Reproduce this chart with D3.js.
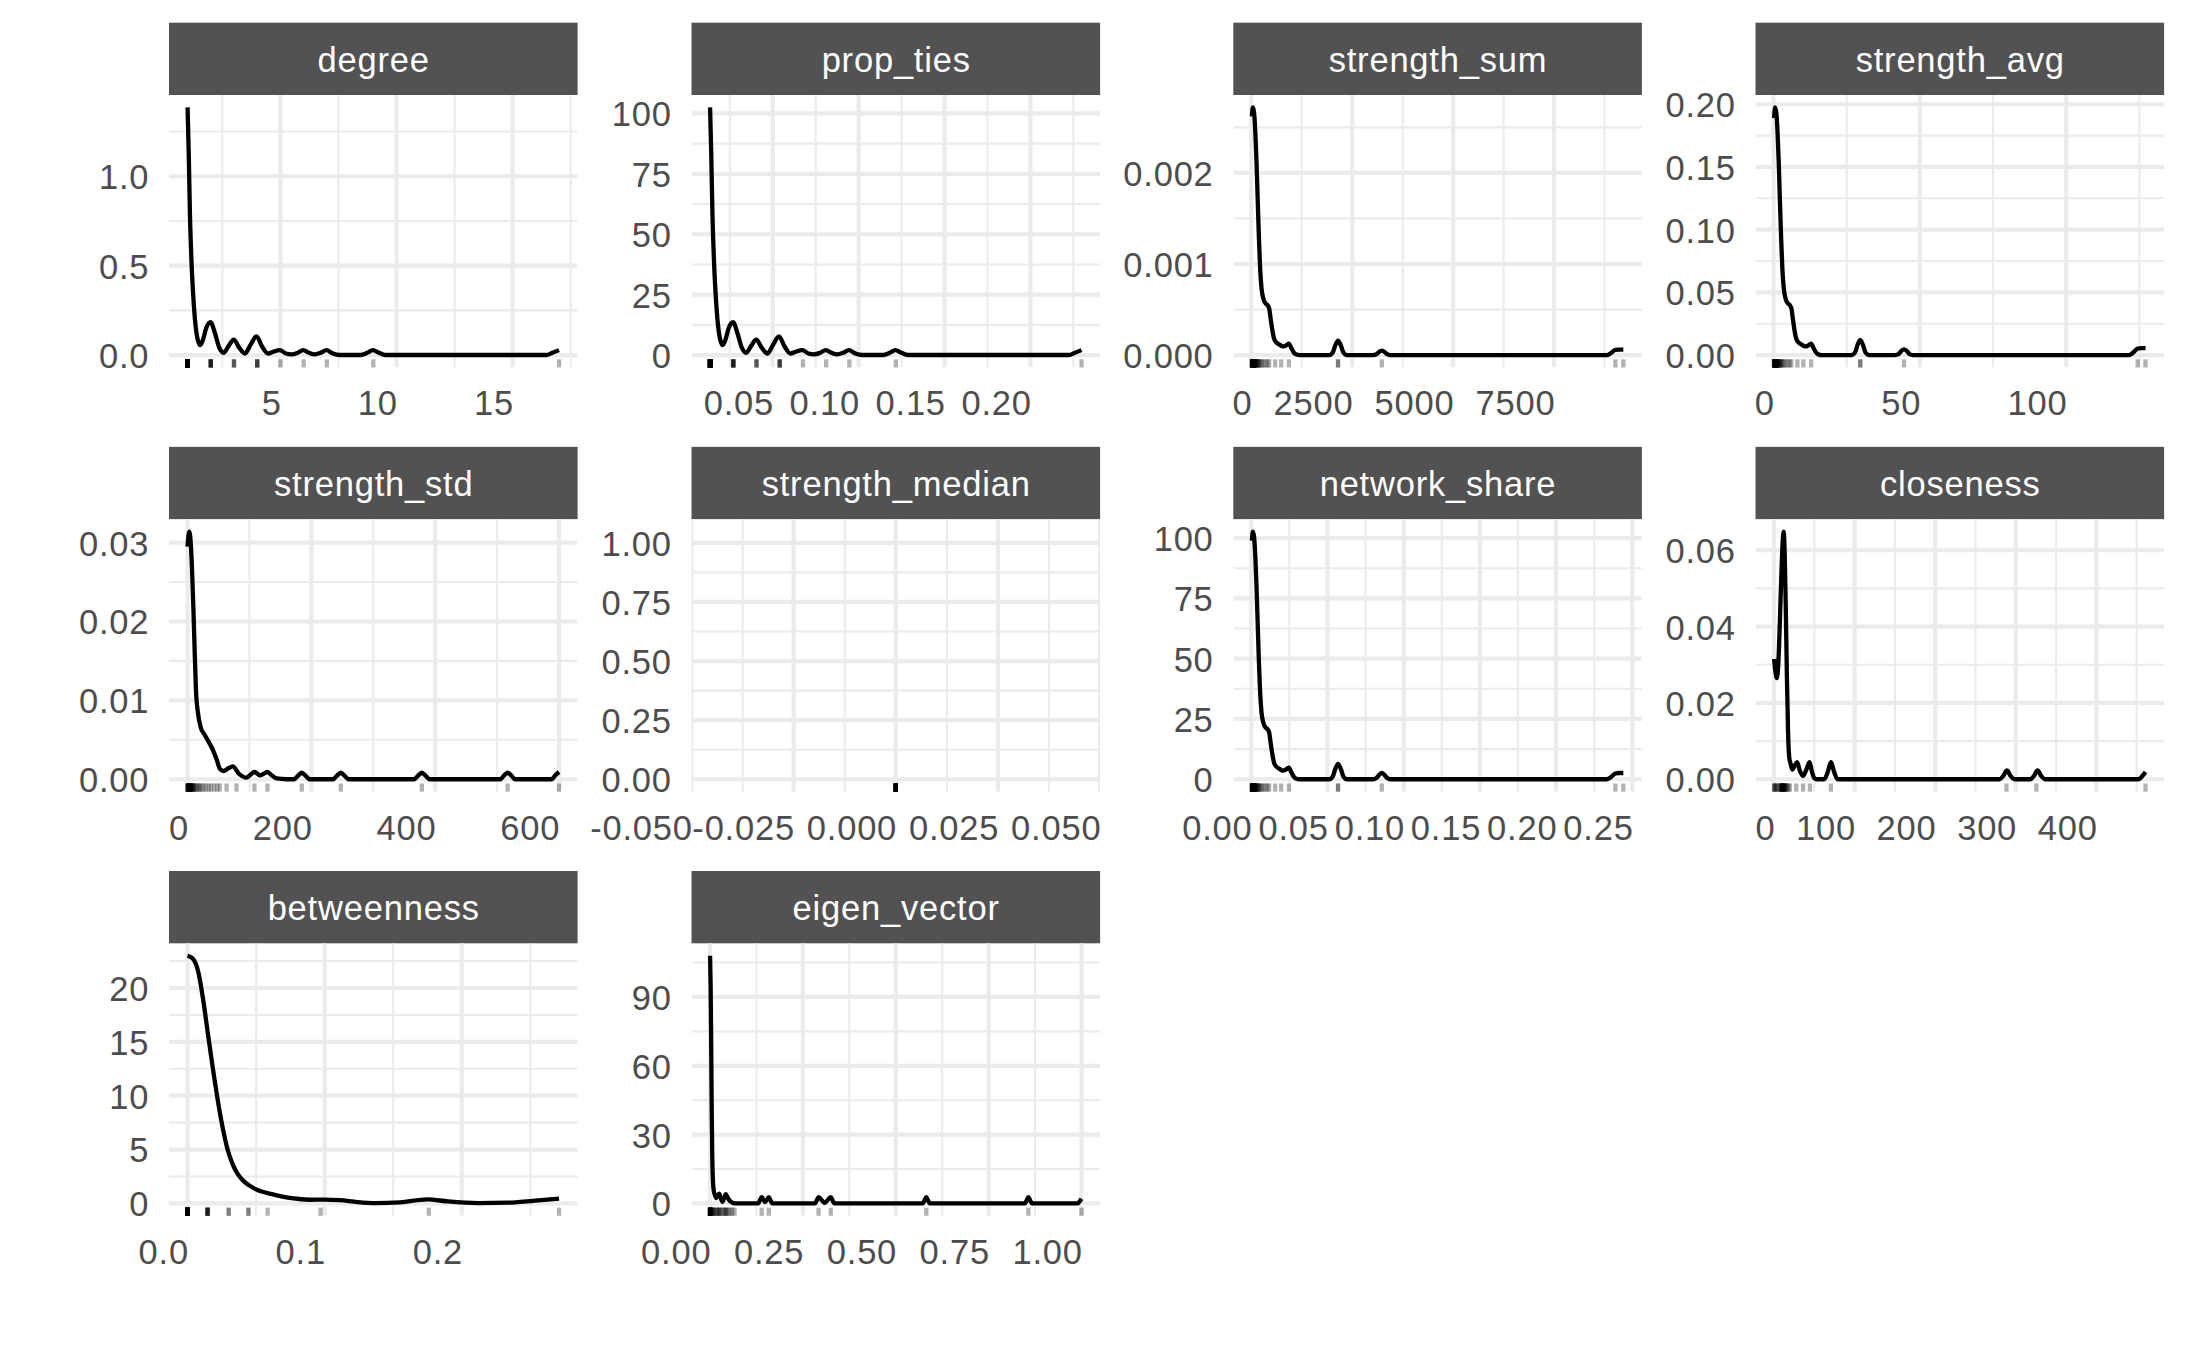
<!DOCTYPE html>
<html>
<head>
<meta charset="utf-8">
<script src="https://cdn.jsdelivr.net/npm/d3@7"></script>
<style>
  html, body { margin: 0; padding: 0; background: #ffffff; }
  svg { display: block; }
</style>
</head>
<body>
<svg id="chart" width="2187" height="1351"></svg>
<script>
// ---------------- DATA ----------------
// Rug observations: [value, count]; density curve: [x, density]
const panelNames = ["degree", "prop_ties", "strength_sum", "strength_avg",
  "strength_std", "strength_median", "network_share", "closeness",
  "betweenness", "eigen_vector"];

const degreeRug = [[1,52],[2,6],[3,3],[4,4],[5,1],[6,1],[7,1],[9,1],[17,1]];
const degreeCurve = [[1,1.385],[1.05,1.13],[1.1,0.80],[1.17,0.52],[1.25,0.32],[1.34,0.17],[1.44,0.085],[1.55,0.056],[1.66,0.085],[1.8,0.15],[1.99,0.184],[2.18,0.122],[2.37,0.04],[2.55,0.013],[2.76,0.05],[2.99,0.087],[3.23,0.04],[3.47,0.009],[3.71,0.057],[3.97,0.105],[4.21,0.048],[4.47,0.009],[4.69,0.019],[4.97,0.028],[5.24,0.009],[5.47,0.004],[5.74,0.013],[5.98,0.028],[6.23,0.013],[6.47,0.004],[6.73,0.013],[6.98,0.028],[7.26,0.009],[7.55,0.0005],[8.45,0.0005],[8.74,0.013],[8.98,0.028],[9.24,0.013],[9.52,0.0005],[16.45,0.0005],[16.72,0.013],[17,0.028]];
const degreeXLabels = ["5","10","15"];
const degreeYLabels = ["0.0","0.5","1.0"];

const propTiesRug = [[0.01351,52],[0.02703,6],[0.04054,3],[0.05405,4],[0.06757,1],[0.08108,1],[0.09459,1],[0.12162,1],[0.22973,1]];
const propTiesCurve = [[0.01351,102.5],[0.01419,83.6],[0.01486,59.2],[0.01581,38.5],[0.01689,23.7],[0.01811,12.6],[0.01946,6.3],[0.02095,4.14],[0.02243,6.3],[0.02432,11.1],[0.02689,13.6],[0.02946,9.03],[0.03203,2.96],[0.03446,0.96],[0.0373,3.7],[0.0404,6.44],[0.04365,2.96],[0.04689,0.67],[0.05014,4.22],[0.05365,7.77],[0.05689,3.55],[0.0604,0.67],[0.06338,1.41],[0.06716,2.07],[0.07081,0.67],[0.07392,0.3],[0.07757,0.96],[0.08081,2.07],[0.08419,0.96],[0.08743,0.3],[0.09095,0.96],[0.09432,2.07],[0.09811,0.67],[0.10203,0.04],[0.11419,0.04],[0.11811,0.96],[0.12135,2.07],[0.12486,0.96],[0.12865,0.04],[0.2223,0.04],[0.22595,0.96],[0.22973,2.07]];
const propTiesXLabels = ["0.05","0.10","0.15","0.20"];
const propTiesYLabels = ["0","25","50","75","100"];

const strengthSumRug = [[15,3],[20,2],[25,2],[30,3],[35,3],[40,3],[45,2],[50,2],[55,2],[60,2],[66,2],[72,2],[80,2],[88,1],[95,2],[105,1],[115,1],[125,1],[135,1],[150,1],[165,1],[180,1],[200,1],[225,1],[260,1],[300,1],[350,1],[400,1],[443,1],[592,1],[740,1],[933,1],[2149,2],[3233,1],[9020,1],[9215,1]];
const strengthSumCurve = [[15,0.00262],[40,0.00272],[70,0.00266],[100,0.00245],[130,0.00212],[160,0.0017],[190,0.00128],[220,0.00095],[255,0.00073],[300,0.00062],[350,0.00057],[400,0.00055],[445,0.00051],[480,0.0004],[520,0.00028],[565,0.00018],[620,0.00014],[700,0.000115],[780,0.000095],[840,0.0001],[930,0.000125],[990,0.00008],[1050,0.00003],[1120,0.000006],[1200,0],[1930,0],[2020,0.00003],[2075,0.0001],[2149,0.00016],[2225,0.0001],[2280,0.00003],[2370,0],[3010,0],[3100,0.00001],[3150,0.00003],[3233,0.00005],[3316,0.00003],[3366,0.00001],[3450,0],[8800,0],[8900,0.00002],[9020,0.000057],[9110,0.00006],[9215,0.00006]];
const strengthSumXLabels = ["0","2500","5000","7500"];
const strengthSumYLabels = ["0.000","0.001","0.002"];

const strengthAvgRug = [[0.2,3],[0.28,2],[0.34,2],[0.41,3],[0.48,3],[0.55,3],[0.62,2],[0.69,2],[0.76,2],[0.83,2],[0.91,2],[0.99,2],[1.1,2],[1.21,1],[1.31,2],[1.45,1],[1.59,1],[1.72,1],[1.86,1],[2.07,1],[2.28,1],[2.48,1],[2.76,1],[3.1,1],[3.59,1],[4.14,1],[4.83,1],[5.52,1],[6.11,1],[8.17,1],[10.2,1],[12.87,1],[29.64,2],[44.6,1],[124.4,1],[127.1,1]];
const strengthAvgCurve = [[0.2,0.189],[0.55,0.1975],[0.97,0.193],[1.38,0.178],[1.79,0.154],[2.2,0.123],[2.62,0.093],[3.03,0.069],[3.52,0.053],[4.14,0.045],[4.83,0.0415],[5.52,0.040],[6.14,0.037],[6.62,0.029],[7.17,0.020],[7.79,0.013],[8.55,0.0102],[9.66,0.0084],[10.76,0.0069],[11.6,0.0073],[12.83,0.0091],[13.66,0.0058],[14.48,0.0022],[15.45,0.0004],[16.55,0],[26.6,0],[27.9,0.0022],[28.6,0.0073],[29.64,0.0122],[30.7,0.0073],[31.4,0.0022],[32.7,0],[41.5,0],[42.8,0.0009],[43.4,0.0027],[44.6,0.0045],[45.8,0.0027],[46.4,0.0009],[47.6,0],[121.4,0],[122.8,0.0018],[124.4,0.0052],[125.7,0.0055],[127.1,0.0055]];
const strengthAvgXLabels = ["0","50","100"];
const strengthAvgYLabels = ["0.00","0.05","0.10","0.15","0.20"];

const strengthStdRug = [[0,4],[1,3],[2,3],[3,3],[4,2],[5,2],[6,2],[7,2],[8,1],[9,1],[10,2],[12,1],[14,1],[16,1],[18,1],[20,1],[23,1],[26,1],[30,1],[34,1],[38,1],[43,1],[48,1],[52,1],[63,1],[79,1],[108,1],[129,1],[184.5,1],[247.4,1],[378.4,1],[517,1],[600,1]];
const strengthStdCurve = [[0,0.0295],[2.5,0.0314],[4.8,0.0303],[7,0.027],[9.2,0.0221],[11.3,0.0167],[13.6,0.0112],[17,0.0083],[21.5,0.0065],[27,0.0057],[33,0.0049],[41,0.0037],[47,0.0025],[52,0.00135],[58,0.00105],[66,0.0014],[73,0.00164],[83,0.0007],[95,0.0002],[102,0.0006],[108,0.00092],[117,0.0005],[123,0.0007],[129,0.00092],[136,0.0005],[144,0.0001],[160,0],[172,0],[178.5,0.00046],[184.5,0.00084],[190.5,0.00046],[197,0],[235,0],[241.4,0.00046],[247.4,0.00084],[253.4,0.00046],[260,0],[366,0],[372.4,0.00046],[378.4,0.00084],[384.4,0.00046],[391,0],[505,0],[511,0.00046],[517,0.00084],[523,0.00046],[529,0],[588,0],[594,0.0005],[600,0.00092]];
const strengthStdXLabels = ["0","200","400","600"];
const strengthStdYLabels = ["0.00","0.01","0.02","0.03"];

const strengthMedianRug = [[0,20]];
const strengthMedianCurve = [];
const strengthMedianXLimits = [-0.05, 0.05];
const strengthMedianYLimits = [-0.0524, 1.1];
const strengthMedianXLabels = ["-0.050","-0.025","0.000","0.025","0.050"];
const strengthMedianYLabels = ["0.00","0.25","0.50","0.75","1.00"];

const networkShareRug = [[0.0004,3],[0.00053,2],[0.00066,2],[0.00079,3],[0.00093,3],[0.00106,3],[0.00119,2],[0.00132,2],[0.00146,2],[0.00159,2],[0.00175,2],[0.00191,2],[0.00212,2],[0.00233,1],[0.00252,2],[0.00278,1],[0.00305,1],[0.00331,1],[0.00358,1],[0.00397,1],[0.00437,1],[0.00477,1],[0.0053,1],[0.00596,1],[0.00689,1],[0.00795,1],[0.00927,1],[0.0106,1],[0.01174,1],[0.01568,1],[0.0196,1],[0.02472,1],[0.05693,2],[0.08564,1],[0.2389,1],[0.2441,1]];
const networkShareCurve = [[0.0004,98.9],[0.00106,102.7],[0.00185,100.4],[0.00265,92.5],[0.00344,80],[0.00424,64.2],[0.00503,48.3],[0.00583,35.9],[0.00675,27.6],[0.00795,23.4],[0.00927,21.5],[0.0106,20.8],[0.01179,19.3],[0.01272,15.1],[0.01377,10.6],[0.01497,6.8],[0.01642,5.3],[0.01854,4.3],[0.02066,3.6],[0.02225,3.8],[0.02464,4.8],[0.02623,3.0],[0.02781,1.1],[0.02967,0.2],[0.03179,0],[0.05113,0],[0.05351,1.2],[0.05497,4.0],[0.05693,6.4],[0.05894,4.0],[0.0604,1.2],[0.06278,0],[0.07974,0],[0.08212,0.5],[0.08344,1.5],[0.08564,2.6],[0.08784,1.5],[0.08917,0.5],[0.09139,0],[0.2331,0],[0.2358,0.8],[0.2389,2.4],[0.2413,2.6],[0.2441,2.6]];
const networkShareXLabels = ["0.00","0.05","0.10","0.15","0.20","0.25"];
const networkShareYLabels = ["0","25","50","75","100"];

const closenessRug = [[0,2],[1,1],[2,1],[3,1],[5,1],[6.5,1],[8,2],[9,2],[10,3],[11,3],[12,3],[13,2],[14,2],[15,1],[16.5,1],[18,1],[19.5,1],[27.5,1],[36,1],[44.5,1],[70.6,1],[288.4,1],[325.6,1],[461,1]];
const closenessCurve = [[0,0.0315],[1.7,0.0282],[3.4,0.0265],[5.2,0.03],[7,0.04],[8.8,0.052],[10.4,0.061],[11.8,0.0649],[13.2,0.059],[14.6,0.044],[16,0.026],[17.4,0.012],[18.8,0.0058],[20.3,0.0042],[22.8,0.0025],[25.5,0.0035],[28.5,0.0045],[32,0.0022],[36,0.0009],[40,0.0025],[44,0.0045],[47,0.002],[50,0.0003],[53,0],[62,0],[66.5,0.0018],[70.6,0.0045],[74.7,0.0018],[79,0],[280,0],[284.5,0.0009],[289,0.0023],[293.5,0.0009],[298,0],[318,0],[322.5,0.0009],[327,0.0023],[331.5,0.0009],[336,0],[452,0],[456.5,0.0007],[461,0.0019]];
const closenessXLabels = ["0","100","200","300","400"];
const closenessYLabels = ["0.00","0.02","0.04","0.06"];

const betweennessRug = [[0,30],[0.0146,6],[0.030,2],[0.0444,2],[0.0584,1],[0.097,1],[0.176,1],[0.271,1]];
const betweennessCurve = [[0,23.0],[0.004,22.7],[0.008,21.4],[0.0115,18.8],[0.015,15.6],[0.0185,12.5],[0.022,9.6],[0.0255,7.1],[0.029,5.1],[0.033,3.6],[0.037,2.65],[0.042,1.95],[0.05,1.3],[0.063,0.82],[0.076,0.48],[0.089,0.34],[0.1,0.36],[0.111,0.3],[0.124,0.12],[0.137,0.03],[0.155,0.1],[0.175,0.38],[0.19,0.18],[0.212,0.03],[0.234,0.07],[0.256,0.28],[0.271,0.45]];
const betweennessXLabels = ["0.0","0.1","0.2"];
const betweennessYLabels = ["0","5","10","15","20"];

const eigenVectorRug = [[0,15],[0.003,2],[0.006,2],[0.009,2],[0.012,1],[0.015,1],[0.018,1],[0.021,1],[0.024,2],[0.027,1],[0.031,1],[0.035,1],[0.039,1],[0.042,2],[0.046,1],[0.05,1],[0.055,1],[0.06,1],[0.066,1],[0.139,1],[0.158,1],[0.292,1],[0.325,1],[0.582,1],[0.857,1],[1.0,1]];
const eigenVectorCurve = [[0,108],[0.0015,95],[0.003,70],[0.0045,40],[0.006,20],[0.008,9],[0.0105,5],[0.0135,3.5],[0.017,2.3],[0.0205,3.5],[0.0245,4.3],[0.029,2.2],[0.0335,0.7],[0.038,2.5],[0.0425,4.0],[0.047,2.6],[0.052,1.3],[0.057,0.6],[0.062,0.2],[0.068,0],[0.129,0],[0.134,1.2],[0.139,2.7],[0.1485,0.6],[0.158,2.7],[0.163,1.2],[0.168,0],[0.282,0],[0.287,1.2],[0.292,2.7],[0.3085,0.3],[0.325,2.7],[0.33,1.2],[0.335,0],[0.572,0],[0.577,1.2],[0.582,2.7],[0.587,1.2],[0.592,0],[0.847,0],[0.852,1.2],[0.857,2.7],[0.862,1.2],[0.867,0],[0.99,0],[0.995,0.9],[1.0,2.0]];
const eigenVectorXLabels = ["0.00","0.25","0.50","0.75","1.00"];
const eigenVectorYLabels = ["0","30","60","90"];

// ---------------- PANEL TABLE (built from the arrays above) ----------------
const panels = [
  {rug: degreeRug, curve: degreeCurve, xl: degreeXLabels, yl: degreeYLabels},
  {rug: propTiesRug, curve: propTiesCurve, xl: propTiesXLabels, yl: propTiesYLabels},
  {rug: strengthSumRug, curve: strengthSumCurve, xl: strengthSumXLabels, yl: strengthSumYLabels},
  {rug: strengthAvgRug, curve: strengthAvgCurve, xl: strengthAvgXLabels, yl: strengthAvgYLabels},
  {rug: strengthStdRug, curve: strengthStdCurve, xl: strengthStdXLabels, yl: strengthStdYLabels},
  {rug: strengthMedianRug, curve: strengthMedianCurve, xl: strengthMedianXLabels, yl: strengthMedianYLabels,
   xLim: strengthMedianXLimits, yLim: strengthMedianYLimits},
  {rug: networkShareRug, curve: networkShareCurve, xl: networkShareXLabels, yl: networkShareYLabels},
  {rug: closenessRug, curve: closenessCurve, xl: closenessXLabels, yl: closenessYLabels},
  {rug: betweennessRug, curve: betweennessCurve, xl: betweennessXLabels, yl: betweennessYLabels},
  {rug: eigenVectorRug, curve: eigenVectorCurve, xl: eigenVectorXLabels, yl: eigenVectorYLabels}
].map((p, i) => Object.assign({name: panelNames[i]}, p));

// ---------------- LAYOUT & STYLE ----------------
const FONT = "'Liberation Sans', Arial, Helvetica, sans-serif";
const FONT_SIZE = 34.5;
const LETTER_SP = "0.8px";
const COL_LEFT = [169, 691.5, 1233.3, 1755.5];
const ROW_TOP = [22.7, 446.85, 871];
const PANEL_W = 408.6;
const STRIP_H = 72.3;
const PANEL_H = 272.5;
const GRID_COLOR = "#EBEBEB";
const GRID_MAJOR_W = 4.2;
const GRID_MINOR_W = 2.1;
const LINE_W = 4.3;
const TEXT_COLOR = "#4D4D4D";
const STRIP_FILL = "#525252";

const svg = d3.select("#chart").attr("font-family", FONT);

function minorBreaks(major, dom) {
  if (major.length < 2) return [];
  const step = major[1] - major[0];
  const out = [];
  for (let i = -1; i <= major.length; i++) {
    const m = major[0] + (i + 0.5) * step;
    if (m >= dom[0] && m <= dom[1]) out.push(m);
  }
  return out;
}

panels.forEach((p, i) => {
  const col = i % 4, row = Math.floor(i / 4);
  const g = svg.append("g").attr("transform", `translate(${COL_LEFT[col]},${ROW_TOP[row]})`);

  // strip
  g.append("rect").attr("width", PANEL_W).attr("height", STRIP_H).attr("fill", STRIP_FILL);
  g.append("text").attr("x", PANEL_W / 2 + 0.4).attr("y", 49).attr("text-anchor", "middle")
    .attr("fill", "#ffffff").attr("font-size", FONT_SIZE).attr("letter-spacing", LETTER_SP)
    .text(p.name);

  const pg = g.append("g").attr("transform", `translate(0,${STRIP_H})`);

  // scales: data range + 5% expansion (like ggplot)
  let xDom;
  if (p.xLim) xDom = p.xLim;
  else {
    const ext = d3.extent(p.rug, d => d[0]);
    const pad = 0.05 * (ext[1] - ext[0]);
    xDom = [ext[0] - pad, ext[1] + pad];
  }
  let yDom;
  if (p.yLim) yDom = p.yLim;
  else {
    const ymax = d3.max(p.curve, d => d[1]);
    yDom = [-0.05 * ymax, 1.05 * ymax];
  }
  const x = d3.scaleLinear().domain(xDom).range([0, PANEL_W]);
  const y = d3.scaleLinear().domain(yDom).range([PANEL_H, 0]);

  const xMaj = p.xl.map(Number);
  const yMaj = p.yl.map(Number);

  const clipId = "clip" + i;
  pg.append("clipPath").attr("id", clipId).append("rect")
    .attr("width", PANEL_W).attr("height", PANEL_H);
  const grid = pg.append("g").attr("clip-path", `url(#${clipId})`);

  // minor grid
  grid.selectAll(".vminor").data(minorBreaks(xMaj, xDom)).join("line")
    .attr("x1", d => x(d)).attr("x2", d => x(d)).attr("y1", 0).attr("y2", PANEL_H)
    .attr("stroke", GRID_COLOR).attr("stroke-width", GRID_MINOR_W);
  grid.selectAll(".hminor").data(minorBreaks(yMaj, yDom)).join("line")
    .attr("x1", 0).attr("x2", PANEL_W).attr("y1", d => y(d)).attr("y2", d => y(d))
    .attr("stroke", GRID_COLOR).attr("stroke-width", GRID_MINOR_W);
  // major grid
  grid.selectAll(".vmajor").data(xMaj).join("line")
    .attr("x1", d => x(d)).attr("x2", d => x(d)).attr("y1", 0).attr("y2", PANEL_H)
    .attr("stroke", GRID_COLOR).attr("stroke-width", GRID_MAJOR_W);
  grid.selectAll(".hmajor").data(yMaj).join("line")
    .attr("x1", 0).attr("x2", PANEL_W).attr("y1", d => y(d)).attr("y2", d => y(d))
    .attr("stroke", GRID_COLOR).attr("stroke-width", GRID_MAJOR_W);

  // density curve
  if (p.curve.length) {
    const line = d3.line().x(d => x(d[0])).y(d => y(d[1])).curve(d3.curveMonotoneX);
    pg.append("path").datum(p.curve).attr("d", line)
      .attr("fill", "none").attr("stroke", "#000").attr("stroke-width", LINE_W)
      .attr("stroke-linejoin", "round").attr("stroke-linecap", "butt");
  }

  // rug (alpha ticks, one per observation)
  const rugVals = p.rug.flatMap(([v, c]) => d3.range(c).map(() => v));
  const rugLen = 0.03 * PANEL_H;
  pg.append("g").selectAll("line").data(rugVals).join("line")
    .attr("x1", d => x(d)).attr("x2", d => x(d))
    .attr("y1", PANEL_H).attr("y2", PANEL_H - rugLen)
    .attr("stroke", "#000").attr("stroke-opacity", 0.3).attr("stroke-width", LINE_W);

  // x axis labels
  const xg = pg.append("g").attr("transform", `translate(0,${PANEL_H})`)
    .call(d3.axisBottom(x).tickValues(xMaj)
      .tickFormat(d => p.xl[xMaj.indexOf(d)]).tickSize(0).tickPadding(23.5));
  xg.select(".domain").remove();
  xg.attr("font-size", FONT_SIZE).attr("font-family", FONT).style("color", TEXT_COLOR);
  xg.selectAll("text").attr("text-anchor", "end").attr("letter-spacing", LETTER_SP)
    .attr("dx", "0.8px");

  // y axis labels
  const yg = pg.append("g")
    .call(d3.axisLeft(y).tickValues(yMaj)
      .tickFormat(d => p.yl[yMaj.indexOf(d)]).tickSize(0).tickPadding(20.5));
  yg.select(".domain").remove();
  yg.attr("font-size", FONT_SIZE).attr("font-family", FONT).style("color", TEXT_COLOR);
  yg.selectAll("text").attr("dy", "0.36em").attr("letter-spacing", LETTER_SP)
    .attr("dx", "0.8px");
});
</script>
</body>
</html>
